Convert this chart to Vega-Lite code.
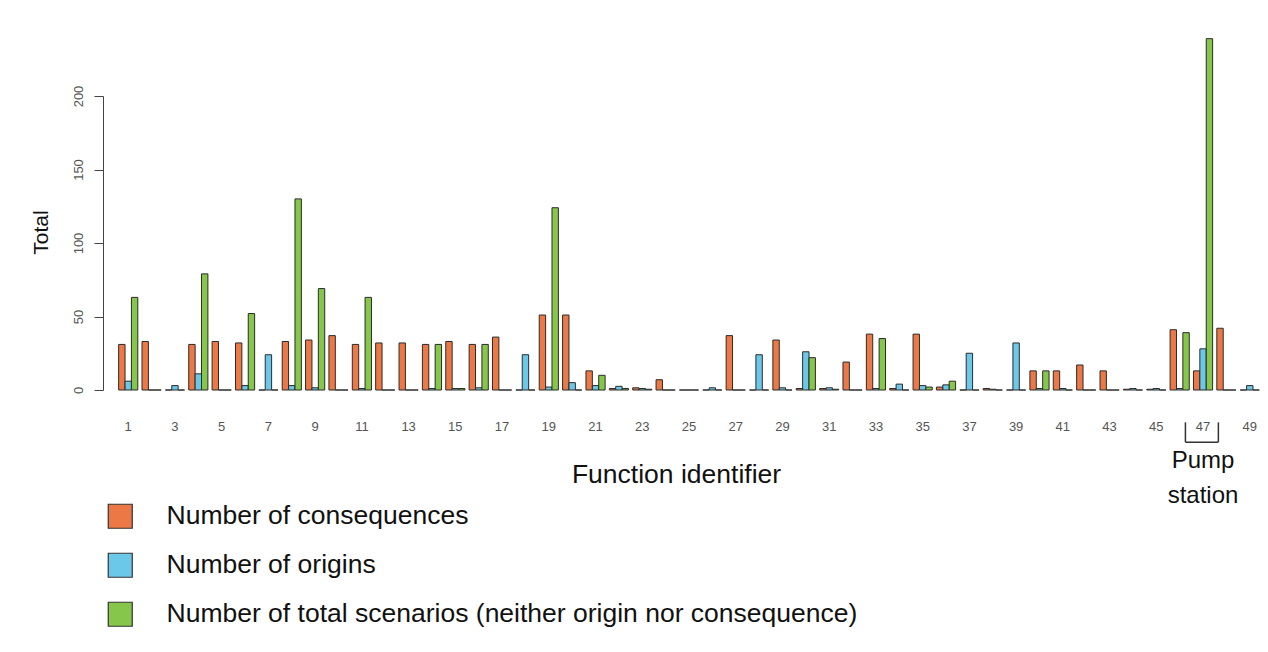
{
  "$schema": "https://vega.github.io/schema/vega-lite/v6.json",
  "width": 1158,
  "height": 294,
  "autosize": {"type": "none"},
  "padding": {"left": 110, "top": 96, "right": 0, "bottom": 262},
  "background": "white",
  "config": {
    "view": {"stroke": null},
    "font": "Liberation Sans"
  },
  "layer": [
    {
      "data": {
        "values": [
          {"function": 1, "series": "consequences", "value": 31}, {"function": 1, "series": "origins", "value": 6}, {"function": 1, "series": "scenarios", "value": 63},
          {"function": 2, "series": "consequences", "value": 33}, {"function": 2, "series": "origins", "value": 0}, {"function": 2, "series": "scenarios", "value": 0},
          {"function": 3, "series": "consequences", "value": 0}, {"function": 3, "series": "origins", "value": 3}, {"function": 3, "series": "scenarios", "value": 0},
          {"function": 4, "series": "consequences", "value": 31}, {"function": 4, "series": "origins", "value": 11}, {"function": 4, "series": "scenarios", "value": 79},
          {"function": 5, "series": "consequences", "value": 33}, {"function": 5, "series": "origins", "value": 0}, {"function": 5, "series": "scenarios", "value": 0},
          {"function": 6, "series": "consequences", "value": 32}, {"function": 6, "series": "origins", "value": 3}, {"function": 6, "series": "scenarios", "value": 52},
          {"function": 7, "series": "consequences", "value": 0}, {"function": 7, "series": "origins", "value": 24}, {"function": 7, "series": "scenarios", "value": 0},
          {"function": 8, "series": "consequences", "value": 33}, {"function": 8, "series": "origins", "value": 3}, {"function": 8, "series": "scenarios", "value": 130},
          {"function": 9, "series": "consequences", "value": 34}, {"function": 9, "series": "origins", "value": 1.5}, {"function": 9, "series": "scenarios", "value": 69},
          {"function": 10, "series": "consequences", "value": 37}, {"function": 10, "series": "origins", "value": 0}, {"function": 10, "series": "scenarios", "value": 0},
          {"function": 11, "series": "consequences", "value": 31}, {"function": 11, "series": "origins", "value": 1}, {"function": 11, "series": "scenarios", "value": 63},
          {"function": 12, "series": "consequences", "value": 32}, {"function": 12, "series": "origins", "value": 0}, {"function": 12, "series": "scenarios", "value": 0},
          {"function": 13, "series": "consequences", "value": 32}, {"function": 13, "series": "origins", "value": 0}, {"function": 13, "series": "scenarios", "value": 0},
          {"function": 14, "series": "consequences", "value": 31}, {"function": 14, "series": "origins", "value": 1}, {"function": 14, "series": "scenarios", "value": 31},
          {"function": 15, "series": "consequences", "value": 33}, {"function": 15, "series": "origins", "value": 1}, {"function": 15, "series": "scenarios", "value": 1},
          {"function": 16, "series": "consequences", "value": 31}, {"function": 16, "series": "origins", "value": 1.5}, {"function": 16, "series": "scenarios", "value": 31},
          {"function": 17, "series": "consequences", "value": 36}, {"function": 17, "series": "origins", "value": 0}, {"function": 17, "series": "scenarios", "value": 0},
          {"function": 18, "series": "consequences", "value": 0}, {"function": 18, "series": "origins", "value": 24}, {"function": 18, "series": "scenarios", "value": 0},
          {"function": 19, "series": "consequences", "value": 51}, {"function": 19, "series": "origins", "value": 2}, {"function": 19, "series": "scenarios", "value": 124},
          {"function": 20, "series": "consequences", "value": 51}, {"function": 20, "series": "origins", "value": 5}, {"function": 20, "series": "scenarios", "value": 0},
          {"function": 21, "series": "consequences", "value": 13}, {"function": 21, "series": "origins", "value": 3}, {"function": 21, "series": "scenarios", "value": 10},
          {"function": 22, "series": "consequences", "value": 1}, {"function": 22, "series": "origins", "value": 2.5}, {"function": 22, "series": "scenarios", "value": 1},
          {"function": 23, "series": "consequences", "value": 1.5}, {"function": 23, "series": "origins", "value": 1}, {"function": 23, "series": "scenarios", "value": 0.5},
          {"function": 24, "series": "consequences", "value": 7}, {"function": 24, "series": "origins", "value": 0}, {"function": 24, "series": "scenarios", "value": 0},
          {"function": 25, "series": "consequences", "value": 0}, {"function": 25, "series": "origins", "value": 0}, {"function": 25, "series": "scenarios", "value": 0},
          {"function": 26, "series": "consequences", "value": 0}, {"function": 26, "series": "origins", "value": 1.5}, {"function": 26, "series": "scenarios", "value": 0},
          {"function": 27, "series": "consequences", "value": 37}, {"function": 27, "series": "origins", "value": 0}, {"function": 27, "series": "scenarios", "value": 0},
          {"function": 28, "series": "consequences", "value": 0}, {"function": 28, "series": "origins", "value": 24}, {"function": 28, "series": "scenarios", "value": 0},
          {"function": 29, "series": "consequences", "value": 34}, {"function": 29, "series": "origins", "value": 1.5}, {"function": 29, "series": "scenarios", "value": 0},
          {"function": 30, "series": "consequences", "value": 1}, {"function": 30, "series": "origins", "value": 26}, {"function": 30, "series": "scenarios", "value": 22},
          {"function": 31, "series": "consequences", "value": 1}, {"function": 31, "series": "origins", "value": 1.5}, {"function": 31, "series": "scenarios", "value": 0.5},
          {"function": 32, "series": "consequences", "value": 19}, {"function": 32, "series": "origins", "value": 0}, {"function": 32, "series": "scenarios", "value": 0},
          {"function": 33, "series": "consequences", "value": 38}, {"function": 33, "series": "origins", "value": 1}, {"function": 33, "series": "scenarios", "value": 35},
          {"function": 34, "series": "consequences", "value": 1}, {"function": 34, "series": "origins", "value": 4}, {"function": 34, "series": "scenarios", "value": 0},
          {"function": 35, "series": "consequences", "value": 38}, {"function": 35, "series": "origins", "value": 3}, {"function": 35, "series": "scenarios", "value": 2},
          {"function": 36, "series": "consequences", "value": 2}, {"function": 36, "series": "origins", "value": 3.5}, {"function": 36, "series": "scenarios", "value": 6},
          {"function": 37, "series": "consequences", "value": 0}, {"function": 37, "series": "origins", "value": 25}, {"function": 37, "series": "scenarios", "value": 0},
          {"function": 38, "series": "consequences", "value": 1}, {"function": 38, "series": "origins", "value": 0.5}, {"function": 38, "series": "scenarios", "value": 0},
          {"function": 39, "series": "consequences", "value": 0}, {"function": 39, "series": "origins", "value": 32}, {"function": 39, "series": "scenarios", "value": 0},
          {"function": 40, "series": "consequences", "value": 13}, {"function": 40, "series": "origins", "value": 1}, {"function": 40, "series": "scenarios", "value": 13},
          {"function": 41, "series": "consequences", "value": 13}, {"function": 41, "series": "origins", "value": 1}, {"function": 41, "series": "scenarios", "value": 0},
          {"function": 42, "series": "consequences", "value": 17}, {"function": 42, "series": "origins", "value": 0}, {"function": 42, "series": "scenarios", "value": 0},
          {"function": 43, "series": "consequences", "value": 13}, {"function": 43, "series": "origins", "value": 0}, {"function": 43, "series": "scenarios", "value": 0},
          {"function": 44, "series": "consequences", "value": 0.5}, {"function": 44, "series": "origins", "value": 1}, {"function": 44, "series": "scenarios", "value": 0},
          {"function": 45, "series": "consequences", "value": 0.5}, {"function": 45, "series": "origins", "value": 1}, {"function": 45, "series": "scenarios", "value": 0},
          {"function": 46, "series": "consequences", "value": 41}, {"function": 46, "series": "origins", "value": 1}, {"function": 46, "series": "scenarios", "value": 39},
          {"function": 47, "series": "consequences", "value": 13}, {"function": 47, "series": "origins", "value": 28}, {"function": 47, "series": "scenarios", "value": 239},
          {"function": 48, "series": "consequences", "value": 42}, {"function": 48, "series": "origins", "value": 0}, {"function": 48, "series": "scenarios", "value": 0},
          {"function": 49, "series": "consequences", "value": 0}, {"function": 49, "series": "origins", "value": 3}, {"function": 49, "series": "scenarios", "value": 0}
        ]
      },
      "mark": {"type": "bar", "stroke": "#2b2b2b", "strokeWidth": 1, "clip": false},
      "encoding": {
        "x": {
          "field": "function",
          "type": "ordinal",
          "scale": {"type": "band", "paddingInner": 0.18, "paddingOuter": 0.37},
          "axis": {
            "title": "Function identifier",
            "titleFontSize": 26.5,
            "titleFontWeight": "normal",
            "titleColor": "#111",
            "titleX": 566,
            "titleY": 92,
            "titleAlign": "center",
            "titleBaseline": "alphabetic",
            "values": [1,3,5,7,9,11,13,15,17,19,21,23,25,27,29,31,33,35,37,39,41,43,45,47,49],
            "labelAngle": 0,
            "labelFontSize": 13,
            "labelColor": "#555",
            "labelPadding": 30,
            "ticks": false,
            "tickSize": 0,
            "domain": false
          }
        },
        "xOffset": {
          "field": "series",
          "type": "nominal",
          "scale": {"domain": ["consequences", "origins", "scenarios"]}
        },
        "y": {
          "field": "value",
          "type": "quantitative",
          "scale": {"domain": [0, 200], "nice": false},
          "axis": {
            "title": "Total",
            "titleFontSize": 21,
            "titleFontWeight": "normal",
            "titleColor": "#111",
            "titlePadding": 21,
            "titleY": 136,
            "values": [0, 50, 100, 150, 200],
            "offset": 7,
            "grid": false,
            "tickSize": 9,
            "tickColor": "#444",
            "domainColor": "#444",
            "labelAngle": -90,
            "labelFontSize": 13,
            "labelColor": "#555",
            "labelPadding": 9
          }
        },
        "fill": {
          "field": "series",
          "type": "nominal",
          "scale": {
            "domain": ["consequences", "origins", "scenarios"],
            "range": ["#EC7845", "#6CC8E8", "#86C64A"]
          },
          "legend": {
            "orient": "none",
            "legendX": -3,
            "legendY": 407,
            "title": null,
            "padding": 0,
            "symbolType": "square",
            "symbolSize": 576,
            "symbolStrokeColor": "#333",
            "symbolStrokeWidth": 1.2,
            "labelFontSize": 26.5,
            "labelColor": "#111",
            "labelOffset": 33,
            "labelLimit": 0,
            "rowPadding": 19,
            "labelExpr": "datum.label == 'consequences' ? 'Number of consequences' : datum.label == 'origins' ? 'Number of origins' : 'Number of total scenarios (neither origin nor consequence)'"
          }
        }
      }
    },
    {
      "data": {"values": [{"function": 47, "note": "Pump station"}]},
      "mark": {"type": "text", "fontSize": 24, "color": "#111", "lineBreak": " ", "lineHeight": 35, "baseline": "alphabetic", "align": "center"},
      "encoding": {
        "x": {"field": "function", "type": "ordinal"},
        "y": {"datum": -53},
        "text": {"field": "note"}
      }
    },
    {
      "data": {"values": [{"function": 47}]},
      "layer": [
        {
          "mark": {"type": "rule", "color": "#333", "strokeWidth": 1.5},
          "encoding": {
            "x": {"field": "function", "type": "ordinal", "bandPosition": -0.42},
            "y": {"datum": -22},
            "y2": {"datum": -35.5}
          }
        },
        {
          "mark": {"type": "rule", "color": "#333", "strokeWidth": 1.5},
          "encoding": {
            "x": {"field": "function", "type": "ordinal", "bandPosition": 1.3},
            "y": {"datum": -22},
            "y2": {"datum": -35.5}
          }
        },
        {
          "mark": {"type": "rule", "color": "#333", "strokeWidth": 1.5},
          "encoding": {
            "x": {"field": "function", "type": "ordinal", "bandPosition": -0.42},
            "x2": {"field": "function", "bandPosition": 1.3},
            "y": {"datum": -35.5}
          }
        }
      ]
    }
  ]
}
